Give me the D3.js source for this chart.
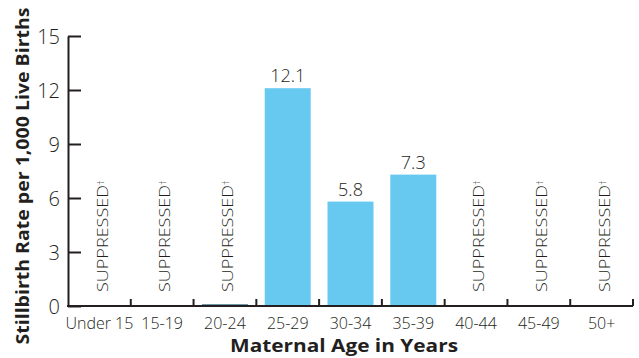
<!DOCTYPE html>
<html><head><meta charset="utf-8">
<script src="https://cdn.jsdelivr.net/npm/d3@7"></script>
<style>
body{margin:0;background:#fff;}
text{font-family:"Open Sans","DejaVu Sans",sans-serif;fill:#231f20;}
</style></head>
<body><svg id="c" width="639" height="358"></svg>
<script>
const categories = ["Under 15","15-19","20-24","25-29","30-34","35-39","40-44","45-49","50+"];
const values = [null, null, 0.1, 12.1, 5.8, 7.3, null, null, null];
const valueLabels = ["", "", "", "12.1", "5.8", "7.3", "", "", ""];
const suppressed = [true, true, true, false, false, false, true, true, true];
const yTicks = [0,3,6,9,12,15];

const svg = d3.select("#c");
const left = 68, right = 633;
const xb = d3.scaleBand().domain(categories).range([left, right]);
const y = d3.scaleLinear().domain([0,15]).range([306, 36]);
const barW = 46;

// bars
svg.selectAll("rect.bar").data(categories.map((c,i)=>({c, v:values[i]})).filter(d=>d.v!=null))
  .enter().append("rect").attr("class","bar")
  .attr("x", d=>xb(d.c)+(xb.bandwidth()-barW)/2)
  .attr("width", barW)
  .attr("y", d=>y(d.v))
  .attr("height", d=>y(0)-y(d.v))
  .attr("fill", d=> d.v < 1 ? "#4a7f96" : "#67c9ef");

// value labels
svg.selectAll("text.val").data(categories.map((c,i)=>({c, v:values[i], l:valueLabels[i]})).filter(d=>d.l))
  .enter().append("text").attr("class","val")
  .attr("x", d=>xb(d.c)+xb.bandwidth()/2)
  .attr("y", d=>y(d.v)-6)
  .attr("text-anchor","middle")
  .style("font-size","18px").style("font-weight","300")
  .text(d=>d.l);

// suppressed labels
const sup = svg.selectAll("text.sup").data(categories.filter((c,i)=>suppressed[i]))
  .enter().append("text").attr("class","sup")
  .attr("transform", d=>`translate(${xb(d)+xb.bandwidth()/2+3},292) rotate(-90)`)
  .attr("dy","0.36em")
  .style("font-size","14.5px").style("font-weight","300");
sup.append("tspan").attr("textLength",107).attr("lengthAdjust","spacingAndGlyphs").text("SUPPRESSED");
sup.append("tspan").attr("dy","-0.45em").style("font-size","9px").text("†");

// y axis
const yAxis = d3.axisRight(y).tickValues(yTicks).tickSize(13).tickSizeOuter(0).tickFormat(d3.format("d"));
const gy = svg.append("g").attr("transform",`translate(${left},0)`).call(yAxis);
gy.select(".domain").attr("stroke","#231f20").attr("stroke-width",2);
gy.selectAll(".tick line").attr("stroke","#231f20").attr("stroke-width",2);
gy.selectAll(".tick text").attr("x",-8).attr("text-anchor","end").attr("dy","0.36em")
  .style("font-size","20px").style("font-weight","300").attr("fill","#231f20")
  .style("font-family","'Open Sans',sans-serif");

// x axis
const gx = svg.append("g").attr("transform",`translate(0,${y(0)})`);
gx.append("line").attr("x1",left-1).attr("x2",right).attr("y1",0).attr("y2",0)
  .attr("stroke","#231f20").attr("stroke-width",2);
gx.selectAll("line.t").data(categories).enter().append("line").attr("class","t")
  .attr("x1",d=>xb(d)+xb.bandwidth()).attr("x2",d=>xb(d)+xb.bandwidth()).attr("y1",0).attr("y2",-7)
  .attr("stroke","#231f20").attr("stroke-width",2);
gx.selectAll("text.cat").data(categories).enter().append("text").attr("class","cat")
  .attr("x",d=>xb(d)+xb.bandwidth()/2).attr("y",23)
  .attr("text-anchor","middle").style("font-size","16px").style("font-weight","300").text(d=>d);

// titles
svg.append("text").attr("transform","translate(23,176) rotate(-90)")
  .attr("text-anchor","middle").attr("dy","0.36em")
  .attr("textLength",337).attr("lengthAdjust","spacingAndGlyphs")
  .style("font-size","17px").style("font-weight","bold")
  .text("Stillbirth Rate per 1,000 Live Births");
svg.append("text").attr("x",344).attr("y",352)
  .attr("text-anchor","middle")
  .attr("textLength",228).attr("lengthAdjust","spacingAndGlyphs")
  .style("font-size","18.5px").style("font-weight","bold")
  .text("Maternal Age in Years");
</script></body></html>
